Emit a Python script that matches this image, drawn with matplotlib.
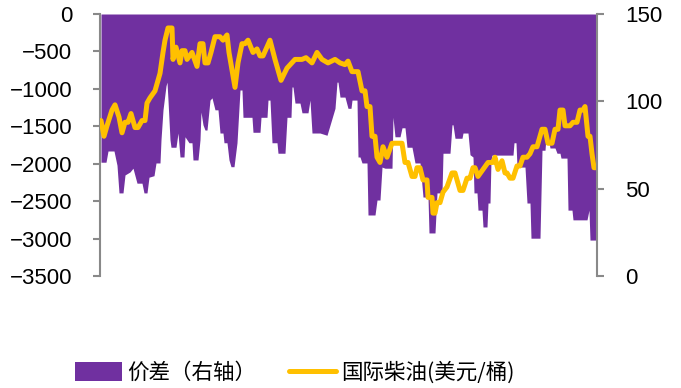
import matplotlib
matplotlib.use("Agg")
import matplotlib.pyplot as plt
from matplotlib.patches import Patch
from matplotlib.lines import Line2D

# ---- data (x is a time index) ----
diff_t = [0, 5, 7, 13, 16, 18, 22, 24, 29, 32, 36, 41, 43, 46, 48, 53, 55, 59, 60, 62,
          65, 66, 67, 69, 70, 75, 77, 79, 83, 84, 88, 91, 92, 97, 99, 100, 102, 104, 106, 109,
          111, 114, 117, 119, 122, 123, 126, 128, 130, 133, 136, 139, 141, 142, 151, 152, 159, 160, 166, 167,
          169, 171, 176, 177, 184, 186, 190, 191, 192, 194, 199, 201, 207, 209, 211, 219, 226, 234, 236, 237,
          239, 244, 247, 250, 251, 256, 257, 259, 261, 266, 267, 274, 276, 279, 281, 284, 291, 292, 294, 299,
          301, 304, 306, 311, 314, 319, 322, 327, 328, 334, 336, 341, 342, 349, 351, 352, 354, 361, 362, 367,
          369, 372, 373, 376, 377, 381, 382, 386, 387, 389, 390, 391, 412, 413, 415, 416, 424, 426, 429, 430,
          439, 441, 444, 445, 447, 449, 454, 456, 459, 460, 466, 467, 471, 472, 486, 488, 489, 495]
diff_vals = [-1980, -1980, -1830, -1830, -2020, -2390, -2390, -2150, -2110, -2060, -2260, -2260, -2390, -2390, -2180, -2160, -1990, -1990, -1680, -1280,
             -960, -910, -1150, -1680, -1780, -1780, -1590, -1910, -1910, -1640, -1720, -1720, -1950, -1950, -1680, -1310, -1480, -1550, -1550, -1150,
             -1120, -1280, -1280, -1590, -1590, -1720, -1720, -1950, -2040, -2040, -1720, -1015, -1015, -1380, -1380, -1580, -1580, -1380, -1380, -1150,
             -1150, -1720, -1720, -1860, -1860, -1380, -1380, -975, -975, -1190, -1190, -1320, -1320, -1150, -1590, -1590, -1620, -1260, -910, -910,
             -1110, -1110, -1260, -1260, -1150, -1150, -1910, -1910, -1990, -1990, -2685, -2685, -2485, -2485, -2045, -2060, -2060, -1380, -1640, -1640,
             -1520, -1520, -1780, -1780, -1990, -1990, -2445, -2445, -2925, -2925, -2390, -2390, -1860, -1860, -1480, -1480, -1660, -1660, -1590, -1590,
             -1880, -1910, -2390, -2390, -2620, -2620, -2845, -2845, -2525, -2525, -1950, -1885, -1885, -1720, -1720, -2045, -2045, -2525, -2525, -2995,
             -2995, -1820, -1820, -1640, -1640, -1790, -1790, -1860, -1860, -1925, -1925, -2620, -2620, -2750, -2750, -2620, -3020, -3020]

diesel_t = [0, 3, 6, 11, 14, 18, 21, 24, 27, 30, 34, 37, 41, 44, 46, 49, 54, 59, 62, 64,
            67, 71, 72, 75, 79, 81, 84, 86, 91, 96, 99, 102, 104, 107, 110, 114, 119, 122, 126, 128,
            134, 137, 141, 144, 147, 152, 156, 159, 162, 169, 174, 180, 186, 194, 201, 205, 211, 216, 221, 227,
            234, 239, 244, 247, 251, 257, 261, 264, 266, 269, 271, 274, 276, 279, 282, 286, 291, 294, 297, 301,
            304, 307, 311, 314, 316, 319, 322, 326, 327, 331, 332, 334, 336, 339, 342, 346, 351, 354, 359, 362,
            366, 369, 372, 374, 377, 382, 387, 392, 394, 397, 401, 404, 406, 409, 412, 416, 419, 422, 426, 429,
            432, 436, 441, 444, 447, 451, 454, 457, 459, 462, 464, 469, 472, 476, 479, 482, 484, 487, 489, 491,
            493, 495]
diesel_vals = [89, 80, 86, 95, 98, 91, 82, 88, 88, 93, 85, 85, 89, 89, 99, 102, 106, 116, 128, 135,
               142, 142, 124, 131, 122, 129, 129, 124, 128, 120, 133, 133, 122, 122, 128, 137, 137, 135, 138, 128,
               108, 122, 133, 133, 135, 128, 130, 126, 126, 135, 124, 112, 119, 124, 124, 125, 122, 128, 124, 122,
               124, 122, 121, 123, 117, 117, 106, 106, 97, 97, 80, 80, 68, 65, 74, 68, 76, 76, 76, 76,
               65, 65, 57, 57, 62, 62, 55, 55, 45, 45, 36, 36, 42, 42, 48, 51, 59, 59, 49, 49,
               56, 56, 62, 62, 57, 61, 65, 65, 68, 61, 66, 59, 59, 56, 56, 63, 63, 68, 68, 70,
               74, 74, 84, 84, 76, 76, 84, 84, 95, 95, 86, 86, 88, 88, 95, 95, 97, 80, 80, 70,
               62, 62]

left_ticks = [0, -500, -1000, -1500, -2000, -2500, -3000, -3500]
right_ticks = [0, 50, 100, 150]
label_diff = "价差（右轴）"
label_diesel = "国际柴油(美元/桶)"

PURPLE = "#7030A0"
GOLD = "#FFC000"
GRAY = "#898989"

plt.rcParams['font.family'] = ['Liberation Sans', 'Noto Sans CJK SC', 'DejaVu Sans']

fig = plt.figure(figsize=(6.81, 3.88), dpi=100)
ax = fig.add_axes([100/681, 1-276/388, 497/681, 262/388])
ax.fill_between(diff_t, 0, diff_vals, color=PURPLE, lw=0)
ax.set_xlim(-1, 496)
ax.set_ylim(-3500, 0)
ax.set_yticks(left_ticks)
ax.set_xticks([])

ax2 = ax.twinx()
ax2.plot(diesel_t, diesel_vals, color=GOLD, lw=3.6, solid_joinstyle='round', solid_capstyle='round')
ax2.set_ylim(0, 150)
ax2.set_yticks(right_ticks)
ax2.set_xlim(-1, 496)

for a in (ax, ax2):
    for s in ('top', 'bottom'):
        a.spines[s].set_visible(False)
    for s in ('left', 'right'):
        a.spines[s].set_color(GRAY)
        a.spines[s].set_linewidth(1.5)
    a.tick_params(axis='y', direction='out', length=5, width=1.5, color=GRAY,
                  labelsize=16, pad=15, labelcolor='black')
ax.spines['right'].set_visible(False)
ax2.spines['left'].set_visible(False)

handles = [Patch(facecolor=PURPLE, edgecolor='none'),
           Line2D([0], [0], color=GOLD, lw=3.6, solid_capstyle='round')]
leg = fig.legend(handles, [label_diff, label_diesel], loc='center left',
                 bbox_to_anchor=(75/681, 1-373/388), ncol=2, frameon=False,
                 prop={'family': ['Noto Sans CJK SC', 'DejaVu Sans'], 'size': 15.5},
                 handlelength=2.2, handleheight=1.0, handletextpad=0.2,
                 columnspacing=1.55, borderpad=0, borderaxespad=0)

fig.savefig("out.png", dpi=100)
